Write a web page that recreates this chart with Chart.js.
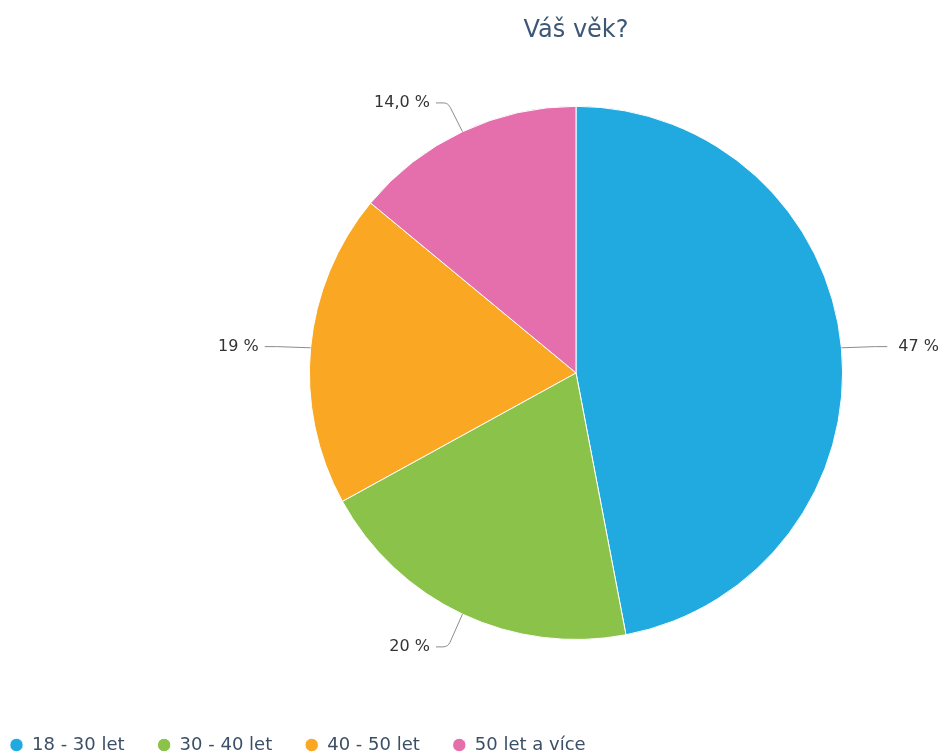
<!DOCTYPE html>
<html>
<head>
<meta charset="utf-8">
<title>Váš věk?</title>
<script src="https://cdn.jsdelivr.net/npm/chart.js@4/dist/chart.umd.min.js"></script>
<style>
    html, body { margin: 0; padding: 0; background: #fff; }
    canvas { display: block; }
</style>
</head>
<body>
<canvas id="chart" width="944" height="756"></canvas>
<script>
// data
const categories = ['18 - 30 let', '30 - 40 let', '40 - 50 let', '50 let a více'];
const values = [47, 20, 19, 14];
const valueLabels = ['47 %', '20 %', '19 %', '14,0 %'];
const sliceColors = ['#20aae0', '#8bc34a', '#faa823', '#e56fad'];

const FONT = "'DejaVu Sans', sans-serif";

// leader lines + value labels outside the slices
const outsideLabels = {
    id: 'outsideLabels',
    afterDatasetsDraw(chart) {
        const ctx = chart.ctx;
        const arcs = chart.getDatasetMeta(0).data;
        ctx.save();
        ctx.font = '16px ' + FONT;
        ctx.textBaseline = 'middle';
        arcs.forEach((arc, i) => {
            const p = arc.getProps(['x', 'y', 'startAngle', 'endAngle', 'outerRadius'], true);
            const mid = (p.startAngle + p.endAngle) / 2;
            const cos = Math.cos(mid), sin = Math.sin(mid);
            const side = cos >= 0 ? 1 : -1;
            const ex = p.x + cos * p.outerRadius, ey = p.y + sin * p.outerRadius;
            const bx = p.x + cos * (p.outerRadius + 34), by = p.y + sin * (p.outerRadius + 34) + 2;
            const hx = bx + side * 12;

            ctx.strokeStyle = '#8c8c8c';
            ctx.lineWidth = 1;
            ctx.beginPath();
            ctx.moveTo(ex, ey);
            ctx.arcTo(bx, by, hx, by, 8);
            ctx.lineTo(hx, by);
            ctx.stroke();

            ctx.fillStyle = '#333333';
            ctx.textAlign = side > 0 ? 'left' : 'right';
            ctx.fillText(valueLabels[i], hx + side * (side > 0 ? 11 : 6), by);
        });
        ctx.restore();
    }
};

// legend sits at the far left of the picture, below the pie
const legendPlace = {
    id: 'legendPlace',
    afterLayout(chart) {
        const lg = chart.legend;
        const pad = lg.options.labels.padding;
        const h = lg.height;
        lg.left = 10 - pad;
        lg.right = lg.left + lg.width;
        lg.top = 745 - 9 - pad;
        lg.bottom = lg.top + h;
    }
};

new Chart(document.getElementById('chart'), {
    type: 'pie',
    data: {
        labels: categories,
        datasets: [{
            data: values,
            backgroundColor: sliceColors,
            borderColor: '#ffffff',
            borderWidth: 1
        }]
    },
    options: {
        responsive: false,
        animation: false,
        events: [],
        layout: {
            padding: {left: 208, right: 0, top: 0, bottom: 55}
        },
        plugins: {
            title: {
                display: true,
                text: 'Váš věk?',
                color: '#3d5774',
                font: {family: FONT, size: 24, weight: 'normal'},
                padding: {top: 16, bottom: 61}
            },
            legend: {
                position: 'bottom',
                align: 'start',
                labels: {
                    usePointStyle: true,
                    pointStyle: 'circle',
                    boxWidth: 13,
                    boxHeight: 9.5,
                    padding: 33,
                    color: '#3b4f66',
                    font: {family: FONT, size: 18}
                }
            },
            tooltip: {enabled: false}
        }
    },
    plugins: [outsideLabels, legendPlace]
});
</script>
</body>
</html>
